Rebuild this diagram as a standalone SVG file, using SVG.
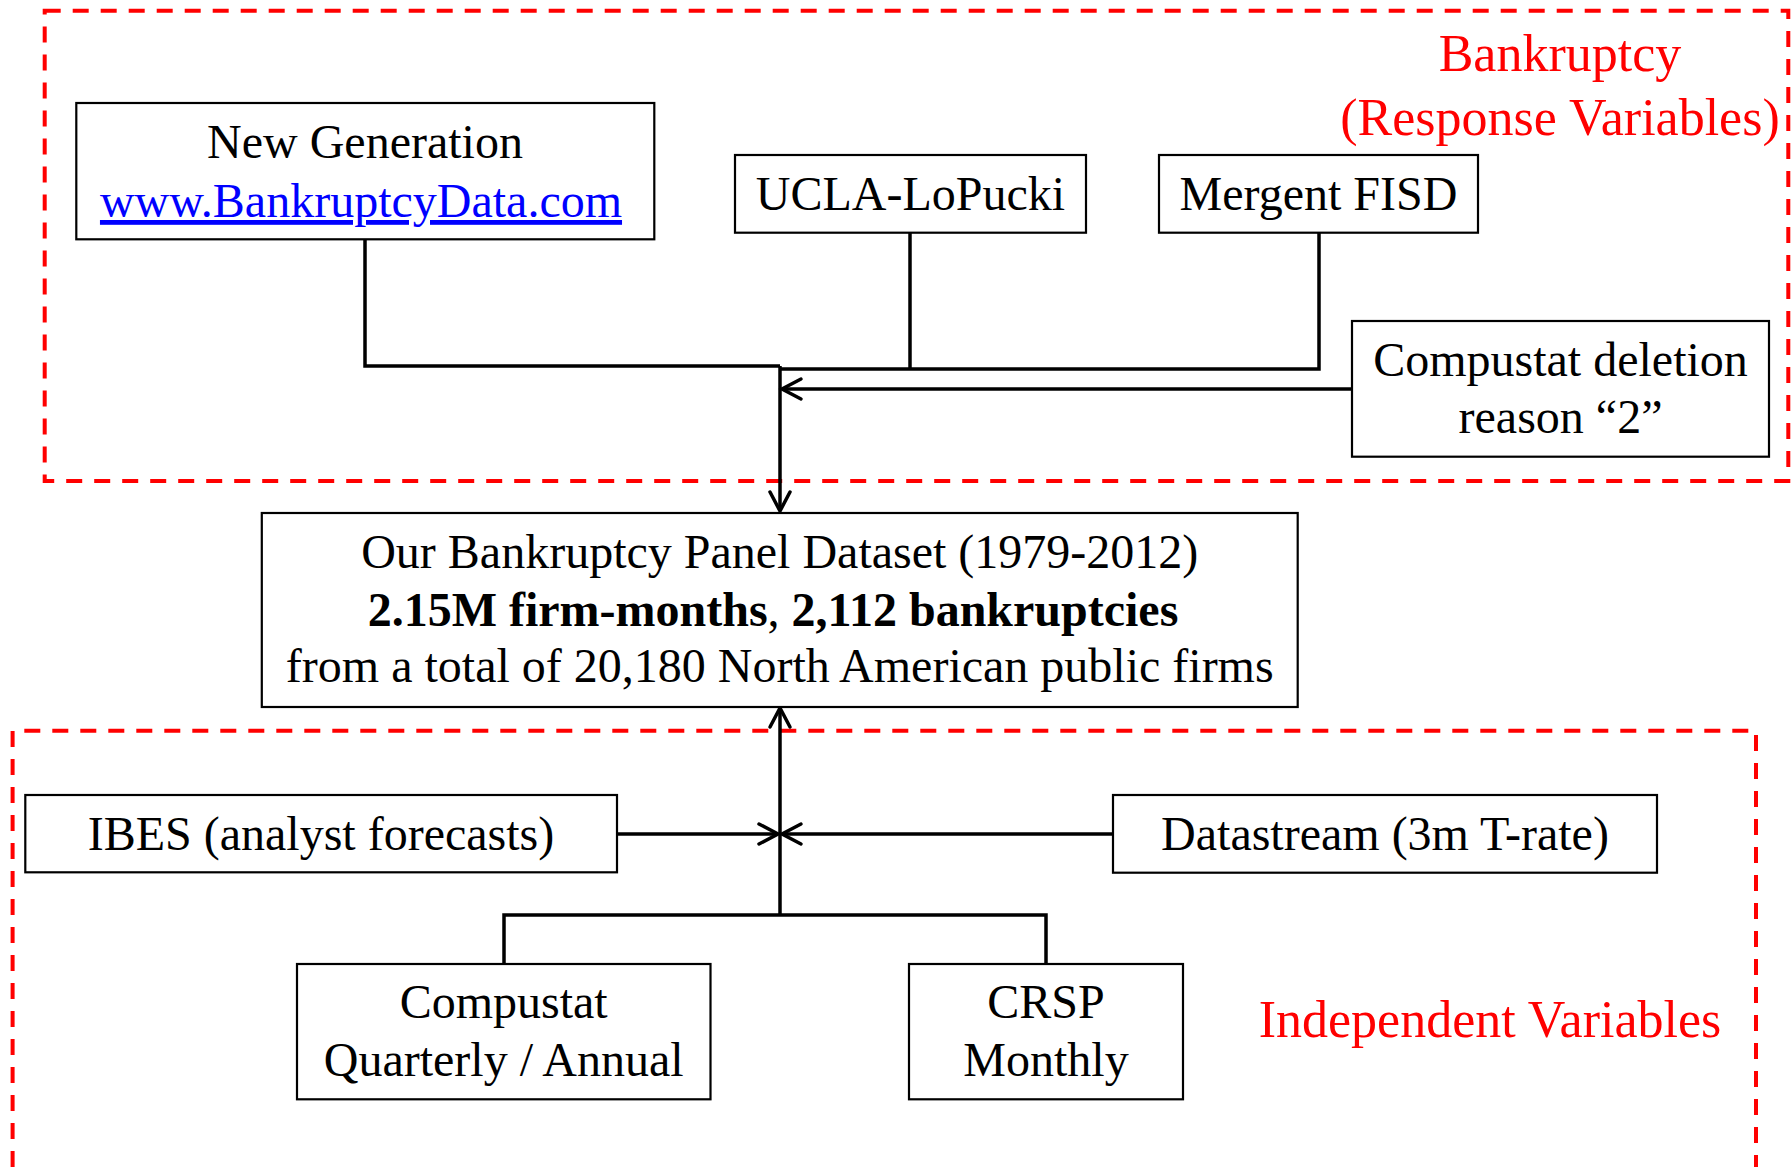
<svg xmlns="http://www.w3.org/2000/svg" width="1791" height="1167" viewBox="0 0 1791 1167">
<style>
.box{fill:#fff;stroke:#000;stroke-width:2.2}
.grp{fill:none;stroke:#ff0000;stroke-width:4;stroke-dasharray:16 12}
.t{font-family:"Liberation Serif","Times New Roman",serif;font-size:48px;fill:#000;text-anchor:middle}
.r{font-family:"Liberation Serif","Times New Roman",serif;font-size:52px;fill:#ff0000;text-anchor:middle}
.b{font-weight:bold}
.c{fill:none;stroke:#000;stroke-width:3.5}
.link{fill:#0000ff;text-decoration:underline}
</style>
<defs>
<marker id="arr" markerUnits="userSpaceOnUse" markerWidth="26" markerHeight="26" viewBox="0 0 26 26" refX="22" refY="13" orient="auto">
<path d="M3,3 L22,13 L3,23" fill="none" stroke="#000" stroke-width="3.5" stroke-linecap="round" stroke-linejoin="miter"/>
</marker>
</defs>
<rect width="1791" height="1167" fill="#fff"/>
<g id="groups">
<rect class="grp" x="44.7" y="10.7" width="1743.6" height="470.3"/>
<path class="grp" d="M12.6,1167 V730.7 H1756 V1167"/>
<text class="r" x="1560" y="71">Bankruptcy</text>
<text class="r" x="1560" y="135">(Response Variables)</text>
<text class="r" x="1490" y="1037">Independent Variables</text>
</g>
<g id="connectors">
<polyline class="c" points="365,239 365,366 780,366"/>
<line class="c" x1="910" y1="233" x2="910" y2="369"/>
<polyline class="c" points="1319,233 1319,369 780,369"/>
<line class="c" x1="1352" y1="389" x2="782" y2="389" marker-end="url(#arr)"/>
<line class="c" x1="780" y1="366" x2="780" y2="511" marker-end="url(#arr)"/>
<line class="c" x1="780" y1="915" x2="780" y2="708" marker-end="url(#arr)"/>
<line class="c" x1="617" y1="834" x2="778" y2="834" marker-end="url(#arr)"/>
<line class="c" x1="1113" y1="834" x2="782" y2="834" marker-end="url(#arr)"/>
<polyline class="c" points="504,964 504,915 1046,915 1046,964"/>
</g>
<g id="newgen">
<rect class="box" x="76.3" y="103" width="578" height="136.3"/>
<text class="t" x="365" y="158">New Generation</text>
<text class="t link" x="361" y="217">www.BankruptcyData.com</text>
</g>
<g id="ucla">
<rect class="box" x="735" y="155" width="351" height="77.7"/>
<text class="t" x="910.5" y="210">UCLA-LoPucki</text>
</g>
<g id="mergent">
<rect class="box" x="1159" y="155" width="319" height="77.7"/>
<text class="t" x="1318.5" y="210">Mergent FISD</text>
</g>
<g id="deletion">
<rect class="box" x="1352" y="321" width="417" height="135.7"/>
<text class="t" x="1560.5" y="376">Compustat deletion</text>
<text class="t" x="1560.5" y="433">reason “2”</text>
</g>
<g id="panel">
<rect class="box" x="261.8" y="513" width="1035.9" height="194"/>
<text class="t" x="779.75" y="568">Our Bankruptcy Panel Dataset (1979-2012)</text>
<text class="t" x="773" y="625.7"><tspan class="b">2.15M firm-months</tspan>, <tspan class="b">2,112 bankruptcies</tspan></text>
<text class="t" x="779.75" y="682.3">from a total of 20,180 North American public firms</text>
</g>
<g id="ibes">
<rect class="box" x="25.3" y="795" width="591.7" height="77.3"/>
<text class="t" x="321" y="850">IBES (analyst forecasts)</text>
</g>
<g id="datastream">
<rect class="box" x="1113" y="795" width="544" height="77.7"/>
<text class="t" x="1385" y="850">Datastream (3m T-rate)</text>
</g>
<g id="compustat">
<rect class="box" x="297" y="964" width="413.5" height="135.3"/>
<text class="t" x="503.7" y="1018">Compustat</text>
<text class="t" x="503.7" y="1076">Quarterly / Annual</text>
</g>
<g id="crsp">
<rect class="box" x="909" y="964" width="274" height="135.3"/>
<text class="t" x="1046" y="1018">CRSP</text>
<text class="t" x="1046" y="1076">Monthly</text>
</g>
</svg>
